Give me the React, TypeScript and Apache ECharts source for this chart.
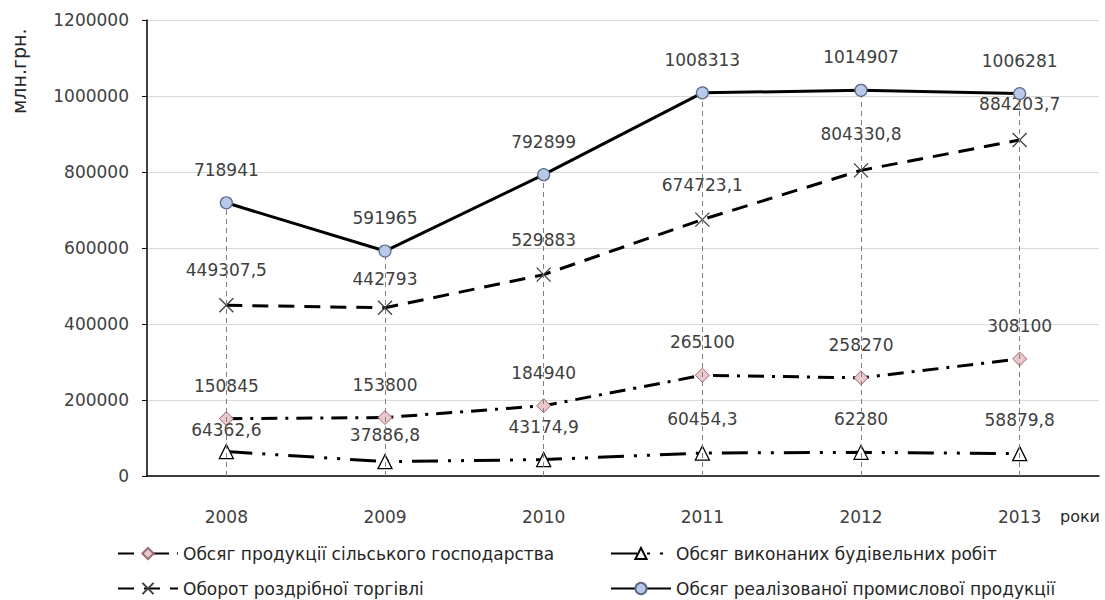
import React, { useEffect, useRef } from "react";
import * as echarts from "echarts";

const years = ["2008", "2009", "2010", "2011", "2012", "2013"];
const industrial = [718941, 591965, 792899, 1008313, 1014907, 1006281];
const retail = [449307.5, 442793, 529883, 674723.1, 804330.8, 884203.7];
const agriculture = [150845, 153800, 184940, 265100, 258270, 308100];
const construction = [64362.6, 37886.8, 43174.9, 60454.3, 62280, 58879.8];

const nameAgri = "Обсяг продукції сільського господарства";
const nameRetail = "Оборот роздрібної торгівлі";
const nameConstr = "Обсяг виконаних будівельних робіт";
const nameInd = "Обсяг реалізованої промислової продукції";

const FONT = "DejaVu Sans";
const fmt = (v: number) => String(v).replace(".", ",");

// label layout (px between label centre and point), not data
const liftDefault = 33;
const liftRetail = [33, 27, 33, 33, 34, 34];
const liftConstr = [21, 26, 32, 34, 33, 33];

const labelFor = (size: number, lift: number) => ({
  show: true,
  position: "top" as const,
  distance: lift - size / 2 - 9,
  fontFamily: FONT,
  fontSize: 17,
  color: "#404040",
  formatter: (p: any) => fmt(p.value),
});

const withLabels = (vals: number[], size: number, lifts?: number[]) =>
  vals.map((v, i) => ({ value: v, label: labelFor(size, lifts ? lifts[i] : liftDefault) }));

const legendBase = {
  orient: "horizontal" as const,
  itemWidth: 60,
  itemHeight: 14,
  textStyle: { fontFamily: FONT, fontSize: 17, color: "#262626" },
};

export default function App() {
  const ref = useRef<HTMLDivElement>(null);
  useEffect(() => {
    if (!ref.current) return;
    const chart = echarts.init(ref.current, null, { renderer: "svg" });
    chart.setOption({
      animation: false,
      backgroundColor: "#ffffff",
      textStyle: { fontFamily: FONT },
      grid: { left: 147, right: 6, top: 20, bottom: 124 },
      xAxis: {
        type: "category",
        data: years,
        boundaryGap: true,
        axisLine: { lineStyle: { color: "#000", width: 1.5 } },
        axisTick: { show: false },
        axisLabel: { fontFamily: FONT, fontSize: 17, color: "#404040", margin: 32 },
      },
      yAxis: {
        type: "value",
        min: 0,
        max: 1200000,
        interval: 200000,
        axisLine: { show: true, lineStyle: { color: "#000", width: 1.5 } },
        axisTick: { show: true, inside: false, length: 5, lineStyle: { color: "#000" } },
        axisLabel: {
          fontFamily: FONT,
          fontSize: 17,
          color: "#404040",
          margin: 18,
          formatter: (v: number) => String(v),
        },
        splitLine: { lineStyle: { color: "#d9d9d9", width: 1 } },
      },
      legend: [
        { ...legendBase, left: 112, top: 540, data: [nameAgri] },
        { ...legendBase, left: 112, top: 575, data: [nameRetail] },
        { ...legendBase, left: 605, top: 540, data: [nameConstr] },
        { ...legendBase, left: 605, top: 575, data: [nameInd] },
      ],
      graphic: [
        {
          type: "text",
          x: 9,
          y: 114,
          rotation: Math.PI / 2,
          style: { text: "млн.грн.", font: `19px "${FONT}"`, fill: "#262626", textAlign: "left", textVerticalAlign: "top" },
        },
        {
          type: "text",
          x: 1060,
          y: 508,
          style: { text: "роки", font: `16px "${FONT}"`, fill: "#262626" },
        },
      ],
      series: [
        {
          name: nameInd,
          type: "line",
          data: withLabels(industrial, 12),
          z: 5,
          symbol: "circle",
          symbolSize: 12,
          lineStyle: { color: "#000", width: 3, type: "solid" },
          itemStyle: { color: "#b8c8e8", borderColor: "#5a6a88", borderWidth: 1.2 },
          markLine: {
            silent: true,
            symbol: "none",
            label: { show: false },
            lineStyle: { color: "#808080", width: 1, type: [5, 4] },
            data: industrial.map((v, i) => [{ coord: [i, 0] }, { coord: [i, v] }]),
          },
        },
        {
          name: nameRetail,
          type: "line",
          data: withLabels(retail, 14, liftRetail),
          z: 4,
          symbol: "path://M0,0L10,10M10,0L0,10",
          symbolSize: 14,
          lineStyle: { color: "#000", width: 3, type: [16, 10] },
          itemStyle: { color: "none", borderColor: "#404040", borderWidth: 1.3 },
        },
        {
          name: nameAgri,
          type: "line",
          data: withLabels(agriculture, 14),
          z: 3,
          symbol: "diamond",
          symbolSize: 14,
          lineStyle: { color: "#000", width: 3, type: [16, 8, 3, 8] },
          itemStyle: { color: "#ecc8cc", borderColor: "#9a6a72", borderWidth: 1 },
        },
        {
          name: nameConstr,
          type: "line",
          data: withLabels(construction, 14, liftConstr),
          z: 3,
          symbol: "triangle",
          symbolSize: 14,
          lineStyle: { color: "#000", width: 3, type: [26, 10, 3, 10, 3, 10] },
          itemStyle: { color: "#ffffff", borderColor: "#000", borderWidth: 1.3 },
        },
      ],
    });
    return () => chart.dispose();
  }, []);
  return (
    <div
      ref={ref}
      style={{ position: "fixed", left: 0, top: 0, width: 1105, height: 600 }}
    />
  );
}
